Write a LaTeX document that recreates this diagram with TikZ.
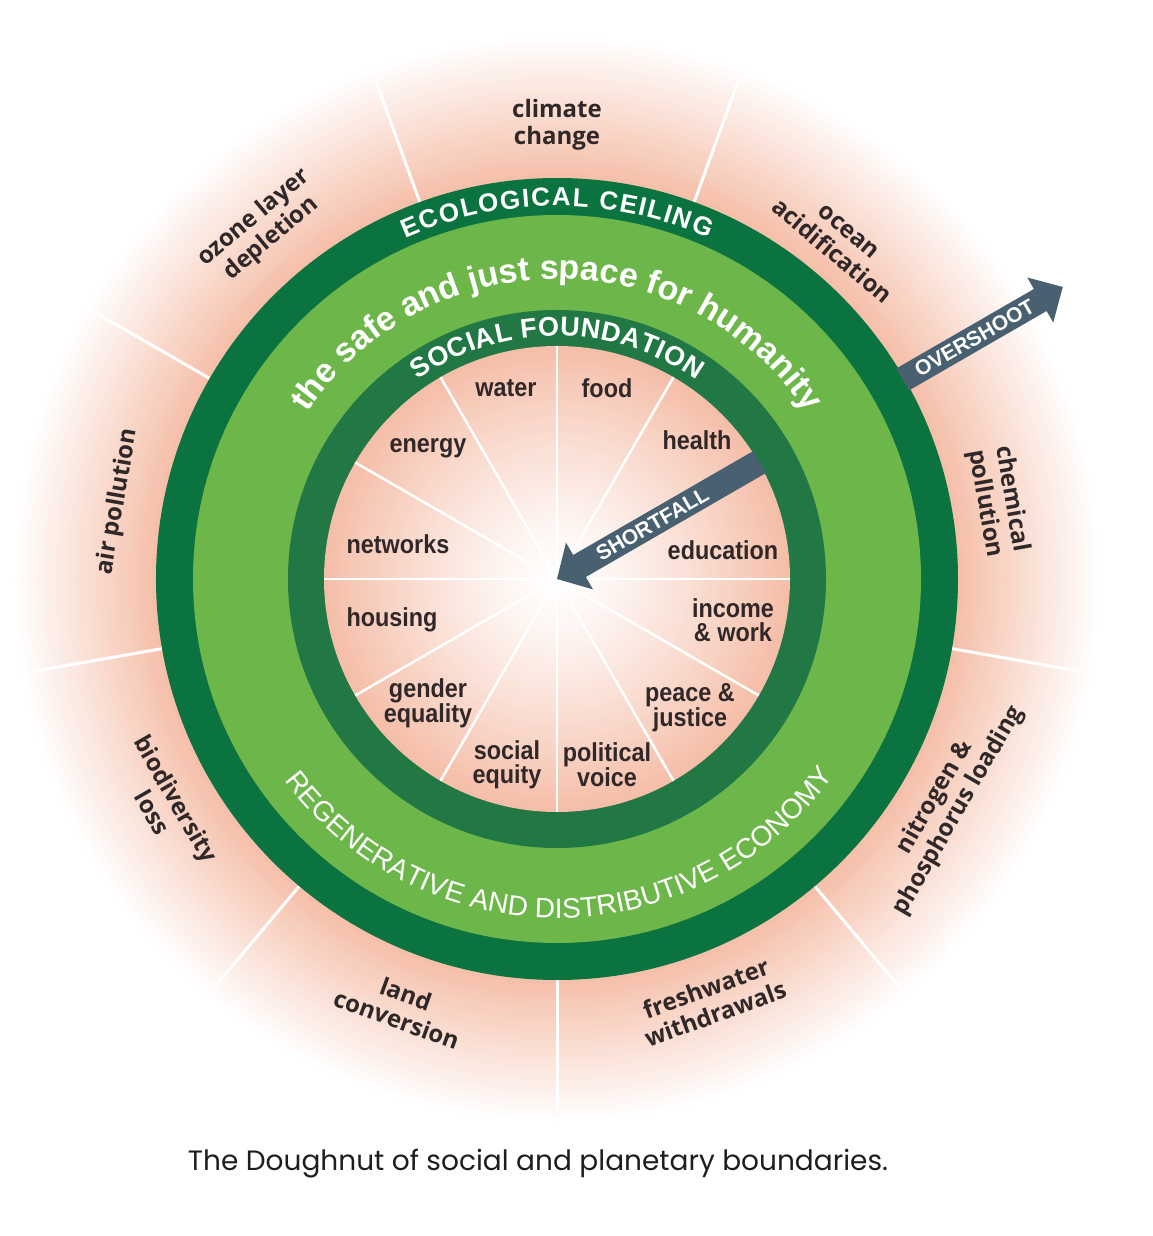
\documentclass[tikz,border=0pt]{standalone}
\usepackage{fontspec}
\setmainfont{Liberation Sans}
\newfontfamily\labfont[FakeStretch=0.9]{Liberation Sans}
\newfontfamily\outfont{Open Sans}
\newfontfamily\capfont{Poppins}
\usetikzlibrary{decorations.text}
\definecolor{ringdark}{RGB}{10,115,64}
\definecolor{ringinner}{RGB}{33,120,69}
\definecolor{ringlight}{RGB}{109,183,74}
\definecolor{pinkc}{RGB}{245,190,168}
\definecolor{arrowc}{RGB}{72,96,112}
\definecolor{labc}{RGB}{48,40,40}
\definecolor{captc}{RGB}{30,30,34}
\begin{document}
\begin{tikzpicture}[x=1pt,y=1pt,
  inlab/.style={font=\labfont\bfseries\fontsize{26}{23.5}\selectfont, text=labc, align=center, inner sep=0pt},
  outlab/.style={font=\outfont\bfseries\fontsize{24}{27}\selectfont, text=labc, align=center, inner sep=0pt},
  spoke/.style={draw=white, line width=3pt},
  arrowtxt/.style={font=\bfseries\fontsize{21}{21}\selectfont, text=white, inner sep=0pt}]
\useasboundingbox (-557,-657) rectangle (595,579);
\fill[white] (-557,-657) rectangle (595,579);
% outer gradient
\foreach \r in {545,541,...,401} {
  \pgfmathsetmacro\p{100*(545-\r)/144}
  \fill[pinkc!\p!white] (0,0) circle[radius=\r pt];
}
\foreach \a in {30,70,...,350} \draw[spoke] (\a:401pt) -- (\a:532pt);
% rings
\fill[ringdark] (0,0) circle[radius=401pt];
\fill[ringlight] (0,0) circle[radius=364pt];
\fill[ringinner] (0,0) circle[radius=269pt];
% inner gradient
\foreach \r in {233,229,...,1} {
  \pgfmathsetmacro\p{100*(\r/233)^1.3}
  \fill[pinkc!\p!white] (0,0) circle[radius=\r pt];
}
\foreach \a in {0,30,...,330} \draw[spoke, line width=2.5pt] (0,0) -- (\a:233pt);
% arrows
\fill[arrowc, rotate=30] (234,12.7) -- (26,12.7) -- (26,27) -- (0,0) -- (26,-27) -- (26,-12.7) -- (234,-12.7) -- cycle;
\fill[arrowc, rotate=30] (399,12.7) -- (558,12.7) -- (558,26) -- (584,0) -- (558,-26) -- (558,-12.7) -- (399,-12.7) -- cycle;
\node[arrowtxt, rotate=30] (over) at (30:482pt) {OVERSHOOT};
\node[arrowtxt, rotate=30] (short) at (30:110pt) {SHORTFALL};
% ring texts
\path[decorate, decoration={text along path, text={|\fontsize{26}{26}\selectfont\bfseries\color{white}|ECOLOGICAL CEILING}, text align=fit to path}]
  (114:373pt) arc[start angle=114, end angle=66, radius=373pt];
\path[decorate, decoration={text along path, text={|\fontsize{34}{34}\selectfont\bfseries\color{white}|the safe and just space for humanity}, text align=center}]
  (170:300pt) arc[start angle=170, end angle=10, radius=300pt];
\path[decorate, decoration={text along path, text={|\fontsize{27}{27}\selectfont\bfseries\color{white}|SOCIAL FOUNDATION}, text align=fit to path}]
  (125:243pt) arc[start angle=125, end angle=55, radius=243pt];
\path[decorate, decoration={text along path, text={|\fontsize{28}{28}\selectfont\color{white}|REGENERATIVE AND DISTRIBUTIVE ECONOMY}, text align=fit to path}]
  (216.5:339pt) arc[start angle=216.5, end angle=323.5, radius=339pt];
% inner labels
\node[inlab] (water) at (-51,191) {water};
\node[inlab] (food) at (50,191) {food};
\node[inlab] (energy) at (-129,131) {energy};
\node[inlab] (health) at (140,139) {health};
\node[inlab] (networks) at (-159,35) {networks};
\node[inlab] (education) at (166,29) {education};
\node[inlab] (housing) at (-165,-41) {housing};
\node[inlab] (income) at (176,-41) {income\\\& work};
\node[inlab] (gender) at (-129,-124) {gender\\equality};
\node[inlab] (peace) at (133,-129) {peace \&\\justice};
\node[inlab] (social) at (-50,-186) {social\\equity};
\node[inlab] (political) at (50,-186) {political\\voice};
% outer labels
\node[outlab] (climate) at (90:454pt) {climate\\change};
\node[outlab, rotate=-40] (ocean) at (50:440pt) {ocean\\acidification};
\node[outlab, rotate=-80] (chemical) at (10:448pt) {chemical\\pollution};
\node[outlab, rotate=60] (nitrogen) at (330:450pt) {nitrogen \&\\phosphorus loading};
\node[outlab, rotate=20] (fresh) at (290:449pt) {freshwater\\withdrawals};
\node[outlab, rotate=-20] (land) at (250:455pt) {land\\conversion};
\node[outlab, rotate=-60] (bio) at (210:453pt) {biodiversity\\loss};
\node[outlab, rotate=80] (air) at (170:446pt) {air pollution};
\node[outlab, rotate=40] (ozone) at (130:458pt) {ozone layer\\depletion};
% caption
\node[font=\capfont\fontsize{28}{28}\selectfont, text=captc, anchor=base, inner sep=0pt] (cap) at (-19,-591.5) {The Doughnut of social and planetary boundaries.};
\end{tikzpicture}
\end{document}
